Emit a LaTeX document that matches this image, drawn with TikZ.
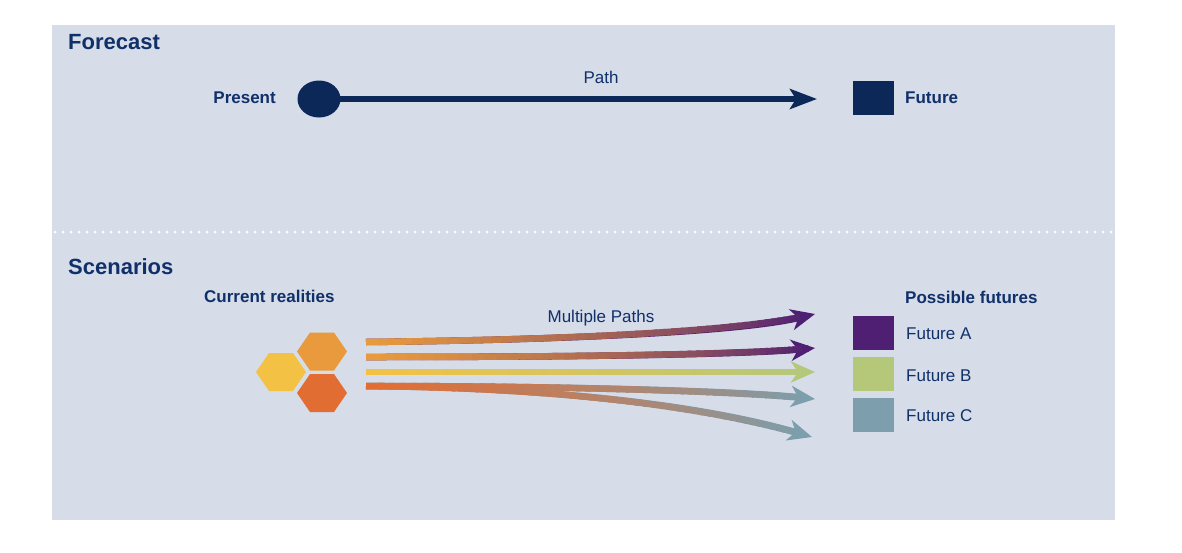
\documentclass[tikz,border=0pt]{standalone}
\usepackage{fontspec}
\setmainfont{Liberation Sans}
\usetikzlibrary{arrows.meta,shapes.geometric}
\definecolor{panel}{HTML}{D6DCE8}
\definecolor{navy}{HTML}{0B2858}
\definecolor{txt}{HTML}{10306A}
\definecolor{cyel}{HTML}{F3C244}
\definecolor{cora}{HTML}{E99A3D}
\definecolor{cred}{HTML}{E26D33}
\definecolor{cpur}{HTML}{4F1F73}
\definecolor{cgrn}{HTML}{B5C87A}
\definecolor{cteal}{HTML}{7C9EAD}
\newcommand\gradarrow[6]{%
  \draw[line width=6.5pt, #6, -{Stealth[length=24pt,width=21pt,inset=7pt]}] (#1) .. controls (#2) and (#3) .. (#4);
  \foreach \i in {0,...,47}{%
    \pgfmathsetmacro\ta{\i/50}%
    \pgfmathsetmacro\tb{(\i+1.4)/50}%
    \pgfmathtruncatemacro\pc{100*\i/47}%
    \path (#1) .. controls (#2) and (#3) .. (#4) coordinate[pos=\ta] (ga) coordinate[pos=\tb] (gb);
    \draw[line width=6.5pt, color=#6!\pc!#5] (ga) -- (gb);
  }%
}
\newcommand\hexat[3]{%
  \fill[#3] (#1,#2) ++(-25,0) -- ++(13,-19) -- ++(24,0) -- ++(13,19) -- ++(-13,19) -- ++(-24,0) -- cycle;
}
\tikzset{
  title/.style={anchor=base west, text=txt, font=\fontsize{22}{24}\selectfont\bfseries, inner sep=0},
  lbl/.style={text=txt, font=\fontsize{17}{19}\selectfont\bfseries, inner sep=0},
  reg/.style={text=txt, font=\fontsize{17}{19}\selectfont, inner sep=0},
  futbox/.style={rectangle, minimum width=41pt, minimum height=34pt, inner sep=0, anchor=north west},
}
\begin{document}
\begin{tikzpicture}[x=1pt,y=-1pt]
\useasboundingbox (0,0) rectangle (1182,552);
\fill[white] (0,0) rectangle (1182,552);
\fill[panel] (52,25) rectangle (1115,520);
\draw[white, line width=3pt, line cap=round, dash pattern=on 0pt off 8pt] (55,232) -- (1113,232);

% Forecast
\node[title] (tforecast) at (68,49) {Forecast};
\node[lbl, anchor=base east] (tpresent) at (276,103) {Present};
\node[ellipse, fill=navy, minimum width=43pt, minimum height=37pt, inner sep=0] (pdot) at (319,99) {};
\coordinate (ftip) at (817,99);
\draw[navy, line width=6.5pt, -{Stealth[length=27pt,width=20pt,inset=6pt]}] (pdot.center) -- (ftip);
\node[reg, anchor=base] (tpath) at (601,83) {Path};
\node[futbox, fill=navy] (fsq) at (853,81) {};
\node[lbl, anchor=base west] (tfuture) at (905,103) {Future};

% Scenarios
\node[title] (tscen) at (68,274) {Scenarios};
\node[lbl, anchor=base west] (tcur) at (204,302) {Current realities};
\node[lbl, anchor=base west] (tposs) at (905,303) {Possible futures};
\node[reg, anchor=base] (tmult) at (601,322) {Multiple Paths};

\hexat{281}{372}{cyel}
\hexat{322}{351.5}{cora}
\hexat{322}{393}{cred}

\coordinate (s1) at (366,342);
\coordinate (s2) at (366,357);
\coordinate (s3) at (366,372);
\coordinate (s4) at (366,386);
\coordinate (e1) at (815,314);
\coordinate (e2) at (815,348);
\coordinate (e3) at (815,372);
\coordinate (e4) at (815,399);
\coordinate (e5) at (812,437);
\coordinate (a1) at (560,340); \coordinate (b1) at (740,332);
\coordinate (a2) at (600,357); \coordinate (b2) at (750,354);
\coordinate (a3) at (500,372); \coordinate (b3) at (700,372);
\coordinate (a4) at (560,386); \coordinate (b4) at (740,391);
\coordinate (a5) at (580,388); \coordinate (b5) at (720,410);

\gradarrow{s4}{a5}{b5}{e5}{cred}{cteal}
\gradarrow{s4}{a4}{b4}{e4}{cred}{cteal}
\gradarrow{s3}{a3}{b3}{e3}{cyel}{cgrn}
\gradarrow{s2}{a2}{b2}{e2}{cora}{cpur}
\gradarrow{s1}{a1}{b1}{e1}{cora}{cpur}

\node[futbox, fill=cpur] (fa) at (853,316) {};
\node[futbox, fill=cgrn] (fb) at (853,357) {};
\node[futbox, fill=cteal] (fc) at (853,398) {};
\node[reg, anchor=base west] (ta) at (906,339) {Future A};
\node[reg, anchor=base west] (tb) at (906,381) {Future B};
\node[reg, anchor=base west] (tc) at (906,421.5) {Future C};
\end{tikzpicture}
\end{document}
